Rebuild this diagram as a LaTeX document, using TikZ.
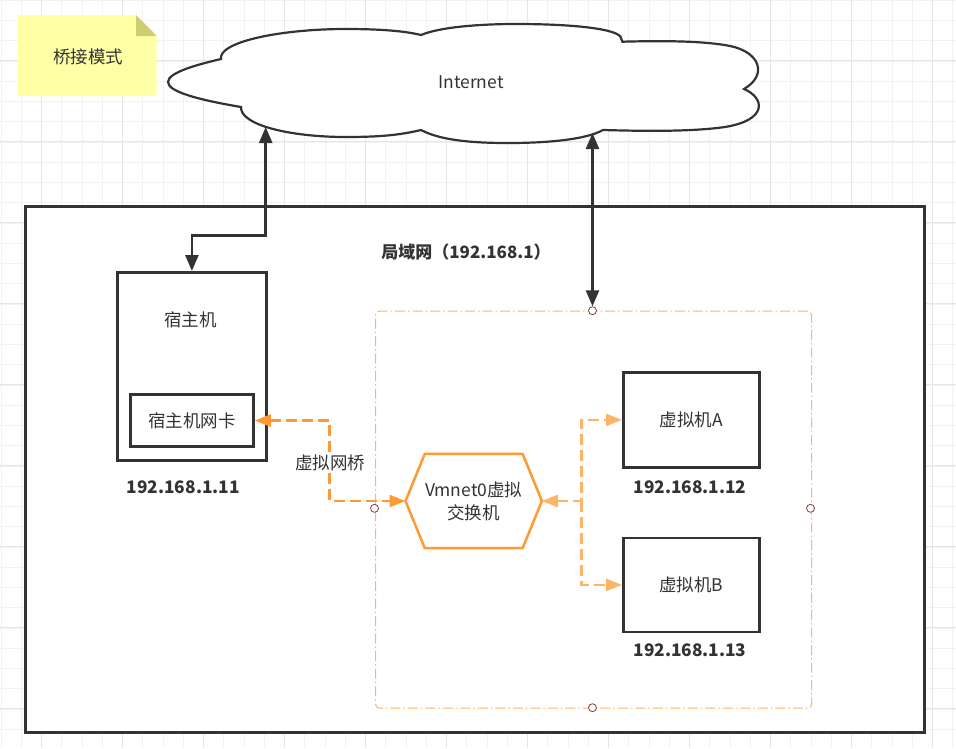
\documentclass[tikz,border=0pt]{standalone}
\usepackage{fontspec}
\setmainfont{Noto Sans CJK SC}
\usetikzlibrary{arrows.meta,calc}
\definecolor{txt}{HTML}{333333}
\definecolor{orng}{HTML}{FF9933}
\definecolor{lorng}{HTML}{FFB366}
\definecolor{notey}{HTML}{FFFFA6}
\definecolor{foldc}{HTML}{CCCC70}
\definecolor{gridmin}{HTML}{F2F2F2}
\definecolor{gridmaj}{HTML}{E6E6E6}
\definecolor{portc}{HTML}{8B3A3A}
\tikzset{
  lbl/.style={font=\fontsize{17.5}{21}\selectfont, text=txt},
  ipl/.style={font=\bfseries\fontsize{17.3}{21}\selectfont, text=txt},
  blk/.style={draw=txt, line width=2.8pt, inner sep=0pt, anchor=north west, fill=white, lbl},
  bar/.style={draw=txt, line width=2.5pt, {Triangle[length=16pt,width=13pt]}-{Triangle[length=16pt,width=13pt]}},
  odash/.style={line width=2.5pt, dash pattern=on 11pt off 5pt},
  portn/.style={circle, draw=portc, fill=white, minimum size=8pt, inner sep=0pt, line width=0.8pt},
}
\begin{document}
\begin{tikzpicture}[x=1pt,y=-1pt]
\useasboundingbox (0,0) rectangle (956,748);
\fill[white] (0,0) rectangle (956,748);
% grid
\foreach \i in {0,...,47} {\draw[gridmin, line width=1pt] ({1.2+20.25*\i},0) -- ({1.2+20.25*\i},748);}
\foreach \j in {0,...,36} {\draw[gridmin, line width=1pt] (0,{0.45+20.25*\j}) -- (956,{0.45+20.25*\j});}
\foreach \k in {0,...,11} {\draw[gridmaj, line width=1pt] ({41.7+81*\k},0) -- ({41.7+81*\k},748);}
\foreach \k in {0,...,8} {\draw[gridmaj, line width=1pt] (0,{60.7+81*\k}) -- (956,{60.7+81*\k});}

% note
\fill[notey] (17.7,15) -- (136,15) -- (156.7,36) -- (156.7,96) -- (17.7,96) -- cycle;
\fill[foldc] (136,15) -- (156.7,36) -- (136,36) -- cycle;
\node[lbl] (note) at (88.3,56.7) {桥接模式};

% cloud
\draw[draw=txt, fill=white, line width=2.2pt]
  (221,59) .. controls (218,42) and (280,29) .. (346,29)
  .. controls (380,29) and (405,31) .. (421,35)
  .. controls (440,27) and (480,24) .. (516,24)
  .. controls (575,24) and (615,29) .. (620.5,36.7)
  -- (622.4,41.7)
  .. controls (650,41) and (700,40) .. (730,46)
  .. controls (760,52) and (768,75) .. (744,89)
  .. controls (765,98) and (768,120) .. (725,127)
  .. controls (690,132) and (640,131) .. (603,130)
  .. controls (585,140) and (545,143) .. (508,143)
  .. controls (470,143) and (440,140) .. (421,130)
  .. controls (400,135) and (380,137) .. (346,137)
  .. controls (290,137) and (240,125) .. (241,107)
  .. controls (200,100) and (168,92) .. (168,82)
  .. controls (168,72) and (200,64) .. (221,59) -- cycle;
\node[lbl] (inet) at (471,82) {Internet};
\coordinate (cA) at (265.7,127);
\coordinate (cB) at (592.5,133);

% LAN box
\node[blk, minimum width=899pt, minimum height=526pt] (lan) at (24,205) {};
\node[font=\bfseries\fontsize{17}{21}\selectfont, text=txt] (lant) at (466,251.7) {局域网（192.168.1）};

% group
\node[draw=lorng, line width=1pt, dash pattern=on 10pt off 3pt on 1.5pt off 3pt, rounded corners=4pt,
  minimum width=436pt, minimum height=397pt, inner sep=0pt, anchor=north west] (grp) at (375,310.7) {};

% host
\node[blk, minimum width=149pt, minimum height=188pt] (host) at (116,271) {};
\node[lbl] (hostt) at (190.5,319.3) {宿主机};
\node[blk, minimum width=123pt, minimum height=51.7pt] (nic) at (129,393.3) {宿主机网卡};
\node[ipl] (ip11) at (183.3,487) {192.168.1.11};

% VMs
\node[blk, minimum width=136pt, minimum height=95pt] (vmA) at (622,371) {虚拟机A};
\node[ipl] (ip12) at (690,487) {192.168.1.12};
\node[blk, minimum width=136pt, minimum height=94pt] (vmB) at (622,536.5) {虚拟机B};
\node[ipl] (ip13) at (690,650.5) {192.168.1.13};

% hexagon switch
\node[minimum width=136pt, minimum height=94pt, inner sep=0pt] (hex) at (473.7,501) {};
\draw[draw=orng, line width=2.5pt, line join=miter, fill=white]
  (hex.west) -- ($(hex.north west)+(19.3,0)$) -- ($(hex.north east)+(-19.3,0)$) -- (hex.east)
  -- ($(hex.south east)+(-19.3,0)$) -- ($(hex.south west)+(19.3,0)$) -- cycle;
\node[align=center, font=\fontsize{17.5}{23}\selectfont, text=txt] (hext) at (hex) {Vmnet0虚拟\\交换机};

% black arrows
\coordinate (k1) at (265.7,235.7);
\draw[bar] (cA) -- (k1) -| (host.north);
\node[portn] (pt) at (592.5,310.7) {};
\node[portn] (pl) at (374.5,508.3) {};
\node[portn] (pr) at (810.5,508.3) {};
\node[portn] (pb) at (592.5,707.7) {};
\draw[bar] (cB) -- (pt);

% orange connectors
\coordinate (jl) at (329.3,501);
\draw[odash, draw=orng, {Triangle[length=16pt,width=12pt]}-{Triangle[length=16pt,width=12pt]}] (nic.east) -| (jl) -- (hex.west);
\node[lbl, fill=white, inner sep=1pt] (brl) at (330,463) {虚拟网桥};
\coordinate (jr) at (581.7,501);
\draw[odash, draw=lorng, {Triangle[length=16pt,width=12pt]}-{Triangle[length=16pt,width=12pt]}] (hex.east) -- (jr) |- (vmA.west);
\draw[odash, draw=lorng, -{Triangle[length=16pt,width=12pt]}] (jr) |- (vmB.west);
\end{tikzpicture}
\end{document}
